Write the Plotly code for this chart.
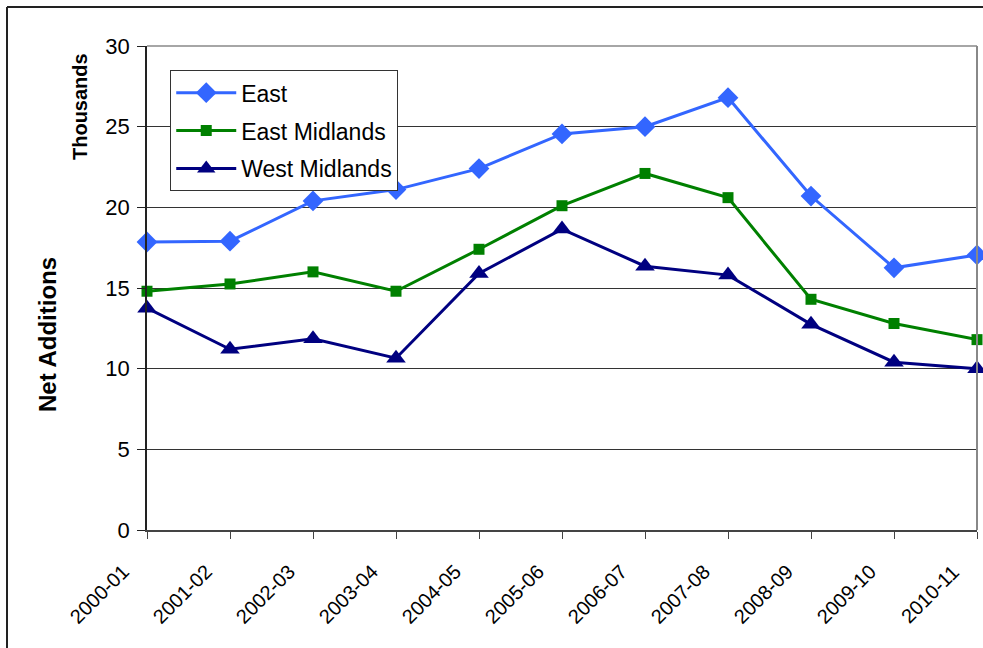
import plotly.graph_objects as go

years = ["2000-01", "2001-02", "2002-03", "2003-04", "2004-05", "2005-06",
         "2006-07", "2007-08", "2008-09", "2009-10", "2010-11"]
east = [17.85, 17.9, 20.4, 21.1, 22.4, 24.55, 25.0, 26.8, 20.7, 16.25, 17.05]
east_midlands = [14.8, 15.25, 16.0, 14.8, 17.4, 20.1, 22.1, 20.6, 14.3, 12.8, 11.8]
west_midlands = [13.75, 11.2, 11.85, 10.65, 15.9, 18.65, 16.35, 15.8, 12.75, 10.4, 10.0]

x_idx = list(range(len(years)))

fig = go.Figure()
fig.add_trace(go.Scatter(x=x_idx, y=east, name="East", mode="lines+markers",
                         legendgroup="a",
                         line=dict(color="#3366FF", width=3),
                         marker=dict(symbol="diamond", size=16, color="#3366FF"),
                         cliponaxis=False))
fig.add_trace(go.Scatter(x=x_idx, y=east_midlands, name="East Midlands", mode="lines+markers",
                         legendgroup="b",
                         line=dict(color="#008000", width=3),
                         marker=dict(symbol="square", size=11, color="#008000"),
                         cliponaxis=False))
fig.add_trace(go.Scatter(x=x_idx, y=west_midlands, name="West Midlands", mode="lines+markers",
                         legendgroup="c",
                         line=dict(color="#000080", width=3),
                         marker=dict(symbol="triangle-up", size=17, color="#000080"),
                         cliponaxis=False))

# category labels drawn as rotated annotations placed on the x scale
label_annotations = [
    dict(text=lab, x=i, xref="x", y=(530 - 558) / 484, yref="paper",
         textangle=-45, showarrow=False, xanchor="right", yanchor="top",
         xshift=-11, font=dict(size=20, color="black"))
    for i, lab in zip(x_idx, years)
]

fig.update_layout(
    width=983, height=648,
    margin=dict(l=147, r=6, t=46, b=118),
    paper_bgcolor="white", plot_bgcolor="white",
    font=dict(family="Arial, Liberation Sans, sans-serif", color="black"),
    showlegend=True,
    legend=dict(x=0.028, y=0.95, xanchor="left", yanchor="top",
                bgcolor="white", bordercolor="#333333", borderwidth=1,
                font=dict(size=23, color="black"), tracegroupgap=5,
                itemwidth=60),
    xaxis=dict(range=[0, 10], tickmode="array", tickvals=x_idx, ticktext=years,
               showticklabels=False, showgrid=False,
               showline=True, linecolor="#444444", linewidth=2,
               ticks="outside", ticklen=7, tickcolor="#444444", zeroline=False,
               automargin=False),
    yaxis=dict(range=[0, 30], tickvals=[0, 5, 10, 15, 20, 25, 30],
               tickfont=dict(size=22), showgrid=True, gridcolor="#333333", gridwidth=1,
               showline=True, linecolor="#222222", linewidth=1.5,
               ticks="outside", ticklen=8, tickcolor="#222222", zeroline=False,
               ticklabelstandoff=3, automargin=False),
    shapes=[
        dict(type="line", xref="paper", yref="paper", x0=1, x1=1, y0=0, y1=1,
             line=dict(color="#888888", width=2)),
        dict(type="line", xref="paper", yref="paper", x0=0, x1=1, y0=1, y1=1,
             line=dict(color="#888888", width=1.5)),
        dict(type="line", xref="paper", yref="paper", x0=(7-147)/830, x1=1.1, y0=(530-7)/484, y1=(530-7)/484,
             line=dict(color="#222222", width=2)),
        dict(type="line", xref="paper", yref="paper", x0=(7-147)/830, x1=(7-147)/830, y0=(530-7)/484, y1=-0.3,
             line=dict(color="#222222", width=2)),
    ],
    annotations=[
        dict(text="<b>Thousands</b>", xref="paper", yref="paper",
             x=(80-147)/830, y=(530-107)/484, textangle=-90, showarrow=False,
             font=dict(size=20, color="black"), xanchor="center", yanchor="middle"),
        dict(text="<b>Net Additions</b>", xref="paper", yref="paper",
             x=(47-147)/830, y=(530-335)/484, textangle=-90, showarrow=False,
             font=dict(size=24, color="black"), xanchor="center", yanchor="middle"),
    ] + label_annotations,
)

fig.write_html("out.html")
